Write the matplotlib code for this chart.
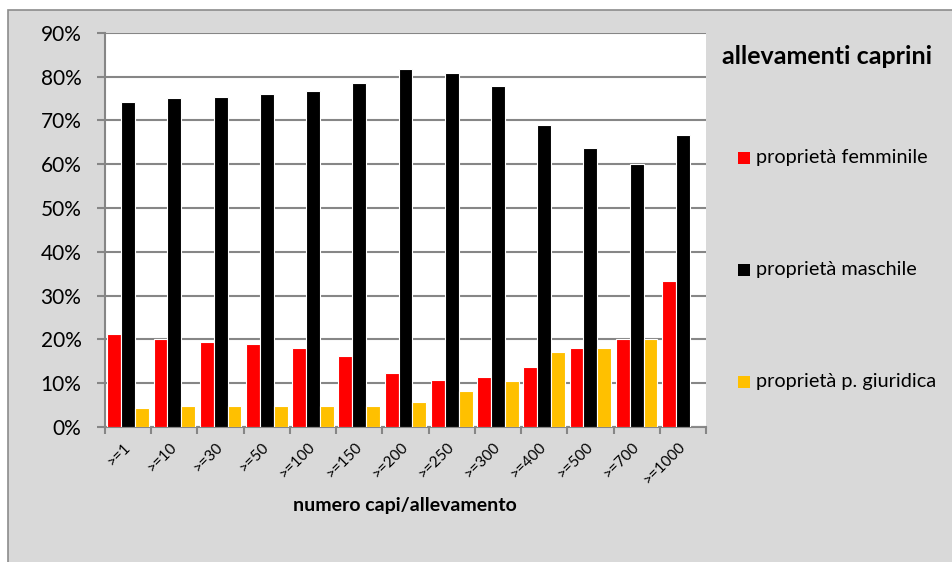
import matplotlib
matplotlib.use("Agg")
import matplotlib.pyplot as plt
import matplotlib.transforms as mtransforms
from matplotlib.patches import Rectangle
from matplotlib.ticker import FuncFormatter, MultipleLocator
import numpy as np

plt.rcParams['font.family'] = ['Lato', 'DejaVu Sans']

categories = [">=1", ">=10", ">=30", ">=50", ">=100", ">=150", ">=200",
              ">=250", ">=300", ">=400", ">=500", ">=700", ">=1000"]
femminile = [21.3, 20.0, 19.5, 19.0, 18.1, 16.2, 12.4, 10.8, 11.3, 13.7, 18.1, 20.0, 33.3]
maschile = [74.1, 75.0, 75.4, 75.9, 76.8, 78.6, 81.7, 80.7, 77.9, 68.9, 63.6, 60.0, 66.7]
giuridica = [4.4, 4.9, 4.9, 4.9, 4.9, 4.9, 5.6, 8.2, 10.6, 17.1, 18.1, 20.0, 0.0]

series = [("proprietà femminile", femminile, "#ff0000"),
          ("proprietà maschile", maschile, "#000000"),
          ("proprietà p. giuridica", giuridica, "#ffc000")]

W, H = 953, 562
fig = plt.figure(figsize=(W / 100, H / 100), dpi=100, facecolor="white")

# grey chart area with a thin border
fig.patches.append(Rectangle((8 / W, -0.01), 1.02, 1.01 - 10 / H, transform=fig.transFigure,
                             facecolor="#d9d9d9", edgecolor="#8c8c8c", linewidth=1.2,
                             zorder=-5))

ax_l, ax_r, ax_t, ax_b = 105, 706, 32.7, 427
ax = fig.add_axes([ax_l / W, (H - ax_b) / H, (ax_r - ax_l) / W, (ax_b - ax_t) / H])
ax.set_zorder(1)
ax.set_facecolor("white")

x = np.arange(len(categories))
bw = 0.3
for i, (name, vals, col) in enumerate(series):
    ax.bar(x + (i - 1) * bw, vals, width=bw, color=col, edgecolor="white",
           linewidth=0.8, label=name, zorder=3)

ax.set_xlim(-0.5, len(categories) - 0.5)
ax.set_ylim(0, 90)
ax.yaxis.set_major_locator(MultipleLocator(10))
ax.yaxis.set_major_formatter(FuncFormatter(lambda v, p: f"{v:.0f}%"))
ax.grid(axis="y", color="#868686", linewidth=1.5, zorder=1)
ax.set_axisbelow(True)

for s in ("top", "right"):
    ax.spines[s].set_visible(False)
for s in ("left", "bottom"):
    ax.spines[s].set_color("#868686")
    ax.spines[s].set_linewidth(1.5)

ax.set_xticks(x)
ax.set_xticklabels(categories, rotation=45, ha="right", va="center",
                   rotation_mode="anchor", fontsize=11)
shift = mtransforms.ScaledTranslation(5 / 100, 0, fig.dpi_scale_trans)
for lbl in ax.get_xticklabels():
    lbl.set_transform(lbl.get_transform() + shift)
ax.set_xticks(np.arange(-0.5, len(categories) + 0.5, 1), minor=True)
ax.tick_params(axis="x", which="major", length=0, pad=13)
ax.tick_params(axis="x", which="minor", length=5, width=1.5, color="#868686")
ax.tick_params(axis="y", length=6, width=1.5, color="#868686", labelsize=15, pad=11)

fig.text(405 / W, 1 - 505 / H, "numero capi/allevamento", ha="center", va="center",
         fontsize=14, fontweight="bold")

fig.text(827 / W, 1 - 57 / H, "allevamenti caprini", ha="center", va="center",
         fontsize=18, fontweight="bold")

leg_y = [158, 270, 382]
for (name, vals, col), yy in zip(series, leg_y):
    fig.patches.append(Rectangle((738 / W, 1 - (yy + 6) / H), 12 / W, 12 / H,
                                 transform=fig.transFigure, facecolor=col,
                                 edgecolor="none", zorder=2))
    fig.text(756 / W, 1 - yy / H, name, ha="left", va="center", fontsize=14.3)

fig.savefig("out.png", dpi=100, facecolor="white")
